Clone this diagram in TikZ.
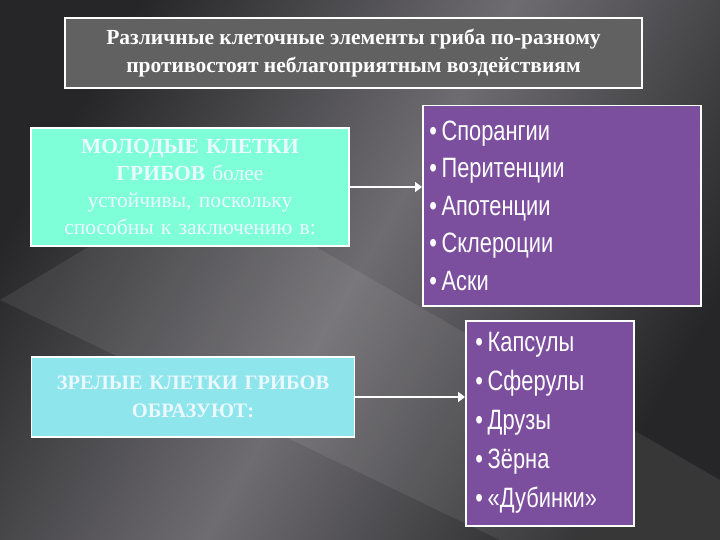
\documentclass[tikz,border=0pt]{standalone}
\usepackage{fontspec}
\setmainfont{Liberation Serif}
\newfontfamily\nsans[FakeStretch=0.78]{Liberation Sans}
\usetikzlibrary{arrows.meta}
\definecolor{bgd}{HTML}{262628}
\definecolor{bgl}{HTML}{6E6C70}
\definecolor{aqua}{HTML}{7FFFD8}
\definecolor{cyanb}{HTML}{8EE6EC}
\definecolor{purp}{HTML}{7B4E9E}
\tikzset{
 cbox/.style={draw=white,line width=1.5pt,align=center,text=white!92!cyan,font=\fontsize{21.5pt}{27pt}\selectfont},
 pbox/.style={draw=white,line width=1.5pt,fill=purp,text=white,align=left,anchor=north west,font=\nsans\fontsize{28pt}{37.5pt}\selectfont},
 arr/.style={draw=white,line width=2.5pt,-{Triangle[length=7pt,width=10pt]}}
}
\begin{document}
\begin{tikzpicture}[x=1pt,y=-1pt]
\useasboundingbox (0,0) rectangle (720,540);
\shade[left color=bgd,right color=bgd,middle color=bgl,shading angle=60] (0,0) rectangle (720,540);
\fill[white,opacity=0.08] (0,300) -- (200,180) -- (720,480) -- (720,540) -- (500,540) -- cycle;
\node[draw=white,line width=1.5pt,fill=black!62,minimum width=577pt,minimum height=70pt,text=white,align=center,font=\bfseries\fontsize{21.5pt}{28pt}\selectfont] (t) at (353.5,53) {Различные клеточные элементы гриба по-разному\\противостоят неблагоприятным воздействиям};
\node[cbox,fill=aqua,minimum width=318pt,minimum height=118pt,text width=314pt,inner sep=2pt] (c1) at (190,187) {\textbf{МОЛОДЫЕ КЛЕТКИ}\\\textbf{ГРИБОВ} более\\устойчивы, поскольку\\способны к заключению в:};
\node[cbox,fill=cyanb,minimum width=323pt,minimum height=80pt,text width=318pt,inner sep=2pt,font=\bfseries\fontsize{20.5pt}{28pt}\selectfont] (c2) at (193,397) {ЗРЕЛЫЕ КЛЕТКИ ГРИБОВ\\ОБРАЗУЮТ:};
\node[pbox,minimum width=278pt,minimum height=200pt,text width=265pt,inner sep=6pt] (p1) at (422,105) {•\,Спорангии\\•\,Перитенции\\•\,Апотенции\\•\,Склероции\\•\,Аски};
\node[pbox,minimum width=168pt,minimum height=205pt,text width=158pt,inner sep=5pt,font=\nsans\fontsize{28pt}{39pt}\selectfont] (p2) at (465,320) {\,•\,Капсулы\\\,•\,Сферулы\\\,•\,Друзы\\\,•\,Зёрна\\\,•\,«Дубинки»};
\draw[arr] (c1.east) -- (c1.east -| p1.west);
\draw[arr] (c2.east) -- (c2.east -| p2.west);
\end{tikzpicture}
\end{document}
